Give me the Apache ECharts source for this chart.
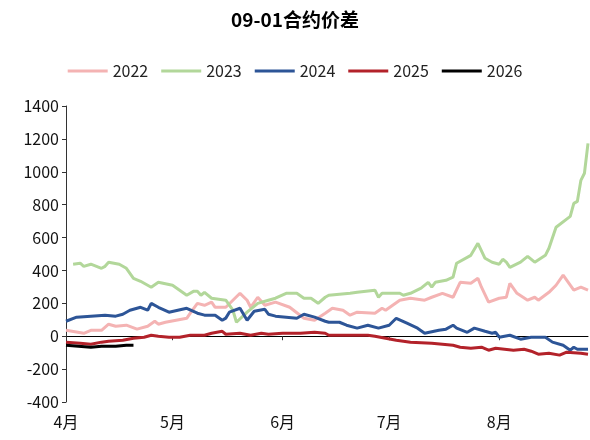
<!DOCTYPE html>
<html>
<head>
<meta charset="utf-8">
<script src="https://cdn.jsdelivr.net/npm/echarts@6/dist/echarts.min.js"></script>
<style>
  html, body { margin: 0; padding: 0; background: #fff; }
  #main { width: 590px; height: 440px; }
</style>
</head>
<body>
<div id="main"></div>
<script>
// 09-01 spread, by season (dates are MM-DD)
var monthTicks = ['04-01', '05-01', '06-01', '07-01', '08-01'];

var days2022 = ['04-01','04-06','04-08','04-11','04-13','04-15','04-18','04-21','04-24','04-26','04-27','04-29','05-05','05-06','05-08','05-10','05-12','05-13','05-16','05-20','05-22','05-23','05-25','05-27','05-30','06-03','06-07','06-10','06-13','06-15','06-18','06-20','06-22','06-27','06-29','06-30','07-04','07-07','07-11','07-13','07-16','07-19','07-21','07-24','07-26','07-27','07-29','08-01','08-03','08-04','08-06','08-09','08-11','08-12','08-15','08-17','08-19','08-22','08-24','08-26'];
var vals2022 = [36,18,36,36,73,61,67,43,61,91,73,85,109,140,200,188,207,176,176,261,219,176,237,188,207,176,109,97,140,170,158,128,146,140,170,158,219,231,219,237,261,237,328,322,353,298,207,231,237,322,261,219,237,219,267,310,371,280,298,280];

var days2023 = ['04-03','04-05','04-06','04-08','04-11','04-12','04-13','04-16','04-18','04-20','04-22','04-25','04-27','05-01','05-05','05-07','05-08','05-09','05-10','05-12','05-16','05-18','05-19','05-22','05-25','05-28','05-30','06-02','06-05','06-07','06-09','06-11','06-13','06-14','06-17','06-20','06-22','06-27','06-28','06-29','07-04','07-05','07-07','07-10','07-12','07-13','07-14','07-17','07-19','07-20','07-24','07-26','07-28','07-30','08-01','08-02','08-03','08-04','08-07','08-09','08-11','08-14','08-15','08-17','08-21','08-22','08-23','08-24','08-25','08-26'];
var vals2023 = [438,444,425,438,413,425,450,438,413,352,334,298,328,310,249,274,274,249,267,231,219,158,85,146,200,219,231,261,261,231,231,200,237,249,255,261,267,280,237,261,261,249,261,292,328,298,328,340,359,444,492,565,474,450,438,468,450,419,450,486,450,492,535,663,729,808,820,948,991,1173];

var days2024 = ['04-01','04-04','04-08','04-12','04-15','04-17','04-19','04-22','04-24','04-25','04-27','04-30','05-05','05-08','05-10','05-13','05-15','05-16','05-17','05-20','05-22','05-24','05-27','05-28','05-30','06-05','06-07','06-10','06-13','06-14','06-17','06-19','06-22','06-25','06-28','07-01','07-03','07-06','07-09','07-11','07-15','07-17','07-19','07-20','07-23','07-25','07-28','07-30','07-31','08-01','08-04','08-07','08-10','08-14','08-16','08-19','08-21','08-22','08-23','08-26'];
var vals2024 = [91,116,122,128,122,134,158,176,158,200,176,146,170,140,128,128,97,110,146,170,97,152,164,134,122,109,134,116,91,85,85,67,49,67,49,67,109,79,49,18,36,43,67,49,24,49,30,18,24,-6,6,-18,-6,-6,-36,-55,-85,-67,-79,-79];

var days2025 = ['04-01','04-05','04-08','04-11','04-13','04-17','04-20','04-23','04-25','04-27','04-30','05-03','05-06','05-10','05-12','05-15','05-16','05-20','05-23','05-26','05-28','06-01','06-06','06-10','06-13','06-14','06-19','06-25','06-27','06-30','07-03','07-07','07-13','07-19','07-21','07-24','07-27','07-29','07-31','08-05','08-08','08-10','08-12','08-15','08-18','08-20','08-24','08-26'];
var vals2025 = [-36,-43,-49,-36,-30,-24,-12,-6,6,0,-6,-6,6,6,18,30,12,18,6,18,12,18,18,24,18,6,6,6,0,-12,-24,-36,-43,-55,-67,-73,-67,-85,-73,-85,-79,-91,-109,-103,-115,-97,-103,-109];

var days2026 = ['04-01','04-08','04-11','04-15','04-18','04-20'];
var vals2026 = [-55,-67,-61,-61,-55,-55];

var seriesNames = ['2022', '2023', '2024', '2025', '2026'];
var seriesColors = ['#F4B3B3', '#B2D79A', '#2D5597', '#B3222A', '#000000'];

// day number counted from 04-01
var DAY_MS = 86400000;
var baseTime = Date.UTC(2001, 3, 1);
function dayIndex(md) {
  var p = md.split('-');
  return Math.round((Date.UTC(2001, +p[0] - 1, +p[1]) - baseTime) / DAY_MS);
}
function dayToMonthLabel(d) {
  var dt = new Date(baseTime + d * DAY_MS);
  return (dt.getUTCMonth() + 1) + '月';
}
function toPoints(days, vals) {
  var out = [];
  for (var i = 0; i < days.length; i++) {
    out.push([dayIndex(days[i]), vals[i]]);
  }
  return out;
}

var allDays = [days2022, days2023, days2024, days2025, days2026];
var allVals = [vals2022, vals2023, vals2024, vals2025, vals2026];

var tickValues = monthTicks.map(dayIndex);
var xMin = dayIndex('04-01');
var xMax = dayIndex('08-26');
var fontFamily = '"Noto Sans CJK SC", "Noto Sans", sans-serif';

var series = [];
for (var i = 0; i < seriesNames.length; i++) {
  series.push({
    name: seriesNames[i],
    type: 'line',
    xAxisIndex: 0,
    data: toPoints(allDays[i], allVals[i]),
    symbol: 'none',
    smooth: false,
    lineStyle: { width: 3, color: seriesColors[i] },
    itemStyle: { color: seriesColors[i] }
  });
}

var option = {
  backgroundColor: '#ffffff',
  animation: false,
  textStyle: { fontFamily: fontFamily },
  title: {
    text: '09-01合约价差',
    left: 'center',
    top: 5,
    textStyle: { fontSize: 19, fontWeight: 'bold', color: '#000', fontFamily: fontFamily }
  },
  legend: {
    data: seriesNames,
    top: 58,
    left: 'center',
    itemWidth: 40,
    itemHeight: 3,
    itemGap: 13,
    icon: 'rect',
    textStyle: { fontSize: 16, color: '#222', fontFamily: fontFamily }
  },
  grid: { left: 66, right: 2, top: 106, bottom: 38 },
  xAxis: [{
    type: 'value',
    min: xMin,
    max: xMax,
    axisLine: { show: false, onZero: false },
    axisTick: { show: false },
    splitLine: { show: false },
    axisLabel: {
      customValues: tickValues,
      fontSize: 16,
      color: '#111',
      margin: 12,
      formatter: function(v) { return dayToMonthLabel(v); }
    }
  }, {
    type: 'value',
    min: xMin,
    max: xMax,
    position: 'bottom',
    axisLine: { show: true, onZero: true, lineStyle: { color: '#000', width: 1 } },
    axisTick: { show: true, customValues: tickValues, length: 4, lineStyle: { color: '#333' } },
    axisLabel: { show: false },
    splitLine: { show: false }
  }],
  yAxis: {
    type: 'value',
    min: -400,
    max: 1400,
    interval: 200,
    axisLine: { show: true, lineStyle: { color: '#333', width: 1 } },
    axisTick: { show: true, length: 4, lineStyle: { color: '#333' } },
    splitLine: { show: false },
    axisLabel: {
      fontSize: 16,
      color: '#111',
      margin: 7,
      formatter: function(v) { return String(v); }
    }
  },
  series: series
};

var chart = echarts.init(document.getElementById('main'));
chart.setOption(option);
</script>
</body>
</html>
